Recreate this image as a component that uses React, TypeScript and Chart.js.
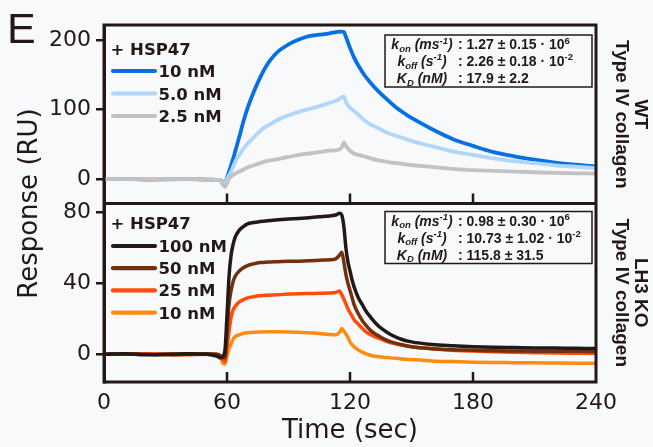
import React, { useEffect, useRef } from 'react';
import { Chart, registerables } from 'chart.js';

Chart.register(...registerables);

// ---------- data ----------
const X_TICKS = [0, 60, 120, 180, 240];
const WT_TICKS = [0, 100, 200];
const KO_TICKS = [0, 40, 80];

const TIME_WT = [0, 10, 20, 30, 40, 50, 55, 57, 58, 59, 60, 61, 62, 64, 66, 68, 70, 72, 75, 78, 81, 85, 90, 95, 100, 105, 110, 114, 116, 117, 118, 119, 120, 122, 124, 127, 130, 134, 138, 143, 148, 155, 162, 170, 180, 190, 200, 210, 220, 230, 240];
const WT_10NM = [0, 0.5, -0.5, 0, 0.5, -0.5, -1, -2, -4, -5, 2, 11, 20, 40, 61, 83, 102, 118, 139, 157, 171, 184, 194, 201, 206, 208, 210, 212, 212.5, 212, 205, 197, 189, 175, 164, 150, 139, 126, 115, 102, 92, 80, 69, 58, 48, 39, 33, 28, 24, 21, 18.5];
const WT_5NM = [0, 0, -0.5, 0, 0, -0.5, -1, -2, -5, -6, 0, 6, 11, 25, 35, 44, 51, 57, 66, 74, 79, 86, 92, 97, 101, 105, 110, 114, 118, 119, 111, 107, 103, 98, 93, 85, 79, 73, 67, 62, 57, 51, 46, 40, 35, 30, 26, 23, 20, 18, 16];
const WT_2_5NM = [0, 0, 0, -0.5, 0, -0.5, -1, -3, -8, -11, -6, 1, 4, 8, 11, 14, 17, 19, 22, 25, 27, 29, 32, 35, 37, 39, 41, 42, 46, 53, 48, 44, 41, 37, 35, 33, 30, 27, 25, 23, 21, 19, 17, 15, 13, 12, 11, 10, 9, 8.5, 8];

const TIME_KO = [0, 10, 20, 30, 40, 50, 55, 57, 58, 59, 60, 61, 62, 63, 64, 66, 68, 70, 73, 76, 80, 85, 90, 95, 100, 105, 110, 113, 115, 116, 117, 118, 119, 120, 121, 122, 124, 126, 128, 130, 133, 136, 140, 145, 150, 160, 170, 180, 190, 200, 210, 220, 230, 240];
const KO_100NM = [0, 0.3, -0.3, 0, 0.3, 0, -1, -2, -1, 2, 22, 44, 56, 62, 66, 70, 72, 73.5, 74.3, 74.8, 75.3, 75.8, 76.2, 76.6, 77, 77.5, 78, 78.5, 79.5, 78.5, 72, 60, 52, 47, 42, 38, 32, 28, 24, 21, 17, 14, 11, 8.5, 7, 5.5, 4.8, 4.3, 4, 3.8, 3.6, 3.5, 3.4, 3.3];
const KO_50NM = [0, 0.3, 0, -0.3, 0, 0.3, 0, -1, -2, -2, 12, 28, 36, 41, 44, 47, 48.8, 50, 51, 51.7, 52, 52.2, 52.4, 52.5, 52.7, 53, 53.3, 53.8, 56, 57.5, 52, 45, 40, 36, 32, 28, 23, 19, 16, 13.5, 11, 9, 7, 5.5, 4.3, 3.2, 2.6, 2.3, 2, 1.9, 1.8, 1.7, 1.7, 1.6];
const KO_25NM = [0, 0, 0.3, 0, -0.3, 0, 0, -1, -3, -4, 4, 13, 21, 25, 27, 29.5, 30.8, 31.8, 32.5, 33, 33.3, 33.6, 34, 34.2, 34.3, 34.4, 34.5, 34.8, 35.7, 33.5, 31, 28.5, 25.5, 23.5, 21.5, 19.5, 17, 14.5, 12.5, 11, 9.5, 8.2, 6.5, 5.2, 4.3, 3.2, 2.3, 1.8, 1.4, 1.1, 0.9, 0.7, 0.6, 0.5];
const KO_10NM = [0, 0, 0, 0.3, 0, 0, -0.5, -2, -5, -5.5, -1, 3, 6, 8.5, 10, 11, 11.8, 12.2, 12.4, 12.6, 12.7, 12.7, 12.6, 12.4, 12.2, 11.8, 11.2, 11, 12.5, 14.5, 13, 11.5, 9.5, 7, 5.5, 4.3, 2.5, 1.2, 0.2, -0.5, -1.2, -1.6, -2, -2.6, -3, -3.7, -4.1, -4.4, -4.6, -4.7, -4.8, -4.9, -5, -5];

const WT_LABELS = ['10 nM', '5.0 nM', '2.5 nM'];
const WT_COLORS = ['#0a6fe4', '#b0d6fa', '#c2c2c4'];
const KO_LABELS = ['100 nM', '50 nM', '25 nM', '10 nM'];
const KO_COLORS = ['#231815', '#73300c', '#ff4c0c', '#ff8c12'];

const WT_VALUES = ['1.27 ± 0.15', '2.26 ± 0.18', '17.9 ± 2.2'];
const WT_EXPONENTS = ['6', '-2', ''];
const KO_VALUES = ['0.98 ± 0.30', '10.73 ± 1.02', '115.8 ± 31.5'];
const KO_EXPONENTS = ['6', '-2', ''];

const INK = '#231815';
const BG = '#f8f9fa';
const SANS = '"DejaVu Sans", sans-serif';
const ARIAL = '"Liberation Sans", Arial, sans-serif';

type Seg = { t: string; s?: 'sub' | 'sup' };
const PARAM_LABELS: Seg[][] = [
  [{ t: 'k' }, { t: 'on', s: 'sub' }, { t: ' (ms' }, { t: '-1', s: 'sup' }, { t: ')' }],
  [{ t: 'k' }, { t: 'off', s: 'sub' }, { t: ' (s' }, { t: '-1', s: 'sup' }, { t: ')' }],
  [{ t: 'K' }, { t: 'D', s: 'sub' }, { t: ' (nM)' }],
];

function drawSegs(ctx: CanvasRenderingContext2D, segs: Seg[], x: number, y: number, size: number, italic: boolean, align: 'left' | 'center') {
  const small = size * 0.68;
  const font = (sz: number) => `${italic ? 'italic ' : ''}bold ${sz}px ${ARIAL}`;
  let total = 0;
  for (const s of segs) {
    ctx.font = font(s.s ? small : size);
    total += ctx.measureText(s.t).width;
  }
  let cx = align === 'center' ? x - total / 2 : x;
  ctx.textAlign = 'left';
  ctx.textBaseline = 'alphabetic';
  for (const s of segs) {
    ctx.font = font(s.s ? small : size);
    const dy = s.s === 'sub' ? size * 0.18 : s.s === 'sup' ? -size * 0.4 : 0;
    ctx.fillText(s.t, cx, y + dy);
    cx += ctx.measureText(s.t).width;
  }
}

function drawParamBox(ctx: CanvasRenderingContext2D, top: number, values: string[], exps: string[]) {
  const left = 385, right = 592, h = 52;
  ctx.lineWidth = 1.5;
  ctx.strokeStyle = INK;
  ctx.fillStyle = BG;
  ctx.fillRect(left, top, right - left, h);
  ctx.strokeRect(left, top, right - left, h);
  ctx.fillStyle = INK;
  const offs = [14.3, 31, 48.3];
  for (let i = 0; i < 3; i++) {
    const y = top + offs[i];
    drawSegs(ctx, PARAM_LABELS[i], 422, y, 14, true, 'center');
    const segs: Seg[] = [{ t: ': ' + values[i] + (exps[i] ? ' · 10' : '') }];
    if (exps[i]) segs.push({ t: exps[i], s: 'sup' });
    drawSegs(ctx, segs, 458, y, 14, false, 'left');
  }
}

function drawLegend(ctx: CanvasRenderingContext2D, headerY: number, labels: string[], colors: string[], firstY: number, step: number) {
  ctx.fillStyle = INK;
  ctx.textAlign = 'left';
  ctx.textBaseline = 'alphabetic';
  ctx.font = `bold 16.5px ${SANS}`;
  ctx.fillText('+ HSP47', 110.5, headerY + 6);
  for (let i = 0; i < labels.length; i++) {
    const y = firstY + i * step;
    ctx.strokeStyle = colors[i];
    ctx.lineWidth = 4.2;
    ctx.lineCap = 'round';
    ctx.beginPath();
    ctx.moveTo(113, y);
    ctx.lineTo(155, y);
    ctx.stroke();
    ctx.fillStyle = INK;
    ctx.fillText(labels[i], 158.5, y + 6);
  }
}

function drawRotated(ctx: CanvasRenderingContext2D, text: string, x: number, y: number, angle: number, font: string) {
  ctx.save();
  ctx.translate(x, y);
  ctx.rotate(angle);
  ctx.font = font;
  ctx.fillStyle = INK;
  ctx.textAlign = 'center';
  ctx.textBaseline = 'middle';
  ctx.fillText(text, 0, 0);
  ctx.restore();
}

const overlay = {
  id: 'overlay',
  afterDatasetsDraw(chart: any) {
    const ctx: CanvasRenderingContext2D = chart.ctx;
    const { left, right, top, bottom } = chart.chartArea;
    const xs = chart.scales.x;
    const yW = chart.scales.yWT;
    const yK = chart.scales.yKO;
    const mid = yW.bottom;
    ctx.save();
    ctx.strokeStyle = INK;
    ctx.lineWidth = 3;
    ctx.lineCap = 'butt';
    ctx.strokeRect(left, top, right - left, bottom - top);
    ctx.beginPath();
    ctx.moveTo(left, mid);
    ctx.lineTo(right, mid);
    ctx.stroke();
    ctx.lineWidth = 2.5;
    ctx.beginPath();
    for (const v of X_TICKS.slice(1, -1)) {
      const px = xs.getPixelForValue(v);
      ctx.moveTo(px, bottom);
      ctx.lineTo(px, bottom - 10);
      ctx.moveTo(px, mid);
      ctx.lineTo(px, mid - 10);
    }
    ctx.stroke();

    drawLegend(ctx, 48.5, WT_LABELS, WT_COLORS, 71, 22.5);
    drawLegend(ctx, 223, KO_LABELS, KO_COLORS, 246, 22.2);

    drawParamBox(ctx, 35, WT_VALUES, WT_EXPONENTS);
    drawParamBox(ctx, 211.5, KO_VALUES, KO_EXPONENTS);

    const cW = (yW.top + yW.bottom) / 2;
    const cK = (yK.top + yK.bottom) / 2;
    const bold19 = `bold 19px ${ARIAL}`;
    drawRotated(ctx, 'WT', 640, cW, Math.PI / 2, bold19);
    drawRotated(ctx, 'Type IV collagen', 621.5, cW, Math.PI / 2, bold19);
    drawRotated(ctx, 'LH3 KO', 640, cK, Math.PI / 2, bold19);
    drawRotated(ctx, 'Type IV collagen', 621.5, cK, Math.PI / 2, bold19);

    drawRotated(ctx, 'Response (RU)', 30, (top + bottom) / 2, -Math.PI / 2, `26px ${SANS}`);

    ctx.font = `43px ${ARIAL}`;
    ctx.fillStyle = INK;
    ctx.textAlign = 'left';
    ctx.textBaseline = 'alphabetic';
    ctx.fillText('E', 7, 43);
    ctx.restore();
  },
};

function yScale(min: number, max: number, ticks: number[]) {
  return {
    type: 'linear',
    position: 'left',
    stack: 'panels',
    stackWeight: 1,
    min,
    max,
    afterBuildTicks: (s: any) => { s.ticks = ticks.map((v) => ({ value: v })); },
    afterFit: (s: any) => { s.width = 104; },
    grid: { display: true, drawOnChartArea: false, drawTicks: true, tickLength: 8, color: INK, lineWidth: 2.5 },
    border: { display: true, color: INK, width: 3 },
    ticks: { color: INK, font: { family: SANS, size: 22 }, padding: 5 },
  };
}

export default function App() {
  const ref = useRef<HTMLCanvasElement>(null);
  useEffect(() => {
    if (!ref.current) return;
    const mk = (time: number[], vals: number[]) => time.map((t, i) => ({ x: t, y: vals[i] }));
    const wtSeries = [WT_10NM, WT_5NM, WT_2_5NM];
    const koSeries = [KO_100NM, KO_50NM, KO_25NM, KO_10NM];
    const datasets: any[] = [];
    wtSeries.forEach((vals, i) => {
      datasets.push({
        label: 'WT ' + WT_LABELS[i],
        data: mk(TIME_WT, vals),
        yAxisID: 'yWT',
        borderColor: WT_COLORS[i],
        borderWidth: 3.8,
        order: 10 - i,
      });
    });
    koSeries.forEach((vals, i) => {
      datasets.push({
        label: 'KO ' + KO_LABELS[i],
        data: mk(TIME_KO, vals),
        yAxisID: 'yKO',
        borderColor: KO_COLORS[i],
        borderWidth: 3.5,
        order: 20 + i,
      });
    });
    const chart = new Chart(ref.current, {
      type: 'line',
      data: { datasets },
      plugins: [overlay],
      options: {
        responsive: false,
        animation: false,
        devicePixelRatio: 1,
        layout: { padding: { top: 25, right: 57, left: 0, bottom: 0 } },
        plugins: { legend: { display: false }, title: { display: false }, tooltip: { enabled: false } },
        elements: {
          point: { radius: 0 },
          line: { cubicInterpolationMode: 'monotone', borderJoinStyle: 'round', borderCapStyle: 'round', fill: false },
        },
        scales: {
          x: {
            type: 'linear',
            min: 0,
            max: 240,
            afterBuildTicks: (s: any) => { s.ticks = X_TICKS.map((v) => ({ value: v })); },
            afterFit: (s: any) => { s.height = 65; },
            grid: { display: false, drawTicks: false },
            border: { display: false },
            ticks: { color: INK, font: { family: SANS, size: 22 }, padding: 8, maxRotation: 0, autoSkip: false },
            title: { display: true, text: 'Time (sec)', color: INK, font: { family: SANS, size: 26 }, padding: { top: 0, bottom: 0 } },
          },
          yKO: yScale(-15.6, 85, KO_TICKS),
          yWT: yScale(-35, 222, WT_TICKS),
        } as any,
      },
    });
    return () => chart.destroy();
  }, []);
  return (
    <div style={{ position: 'absolute', left: 0, top: 0, width: 653, height: 447, background: BG }}>
      <canvas ref={ref} width={653} height={447} style={{ display: 'block' }} />
    </div>
  );
}
